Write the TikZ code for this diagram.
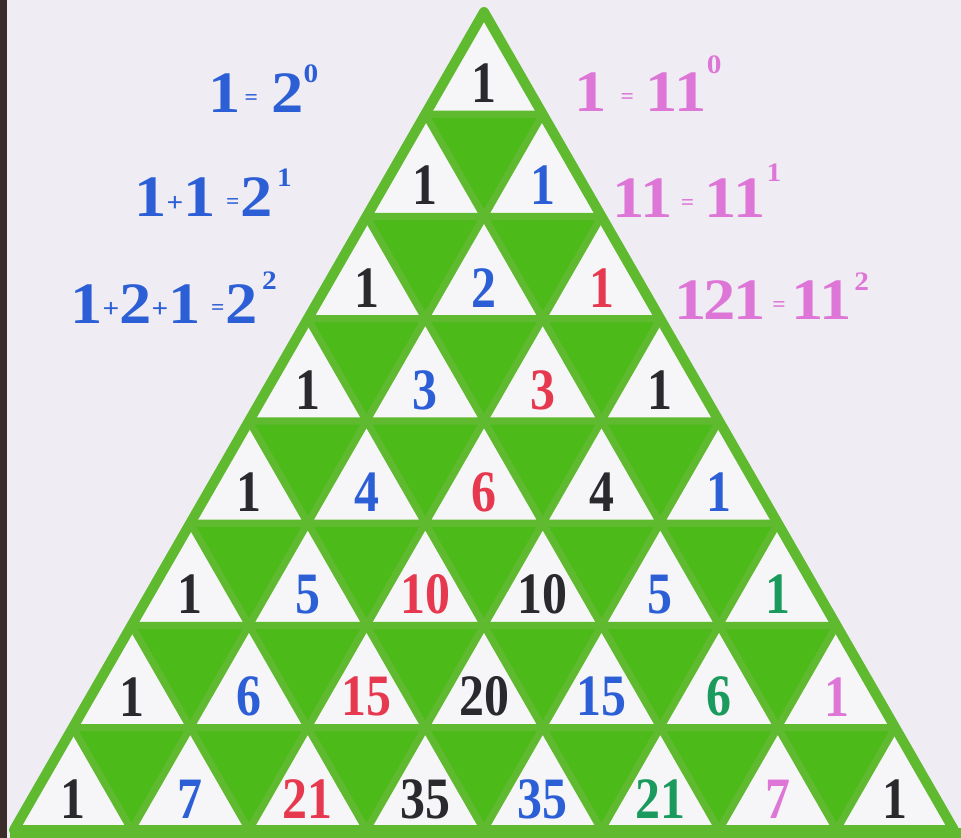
\documentclass[tikz,border=0pt]{standalone}
\usepackage{fontspec}
\newfontfamily\hand[FakeStretch=0.85]{Liberation Serif}
\newfontfamily\labfont[FakeStretch=1.1]{Liberation Serif}
\definecolor{paper}{HTML}{EFEDF3}
\definecolor{edgedark}{HTML}{3A2C2A}
\definecolor{cellwhite}{HTML}{F6F5F7}
\definecolor{gfill}{HTML}{4CBB1A}
\definecolor{gline}{HTML}{5FBA30}
\definecolor{tblack}{HTML}{2A2A2E}
\definecolor{tblue}{HTML}{2C5FD6}
\definecolor{tred}{HTML}{E6384F}
\definecolor{tgreen}{HTML}{1A9A5C}
\definecolor{tpink}{HTML}{DE76D8}
\newcommand\sups[2]{\raisebox{#1}{\fontsize{20}{20}\selectfont #2}}
\newcommand\eq{\raisebox{6pt}{\fontsize{16}{16}\selectfont =}}
\newcommand\pl{\raisebox{4pt}{\fontsize{20}{20}\selectfont +}}
\tikzset{
  num/.style={font=\hand\bfseries\fontsize{44}{44}\selectfont, inner sep=0pt, anchor=center},
  lab/.style={font=\labfont\bfseries\fontsize{44}{44}\selectfont, inner sep=0pt, anchor=base west},
  gridline/.style={draw=gline, line width=5.4pt, line join=round},
  outerline/.style={draw=gline, line width=7.5pt, line join=round},
}
\begin{document}
\begin{tikzpicture}[x=0.75pt,y=-0.75pt]
\useasboundingbox (0,0) rectangle (961,838);
\fill[paper] (0,0) rectangle (961,838);
\fill[edgedark] (0,0) rectangle (7,838);
\def\h{102.25}
\def\w{58.75}
% big triangle
\fill[cellwhite] (484,12) -- (14,830) -- (954,830) -- cycle;
% downward (green) triangles
\foreach \r in {1,...,7}{
  \foreach \k in {1,...,\r}{
    \fill[gfill] ({484+(2*(\k-1)-\r)*\w},{12+\r*\h}) -- ({484+(2*\k-\r)*\w},{12+\r*\h}) -- ({484+(2*(\k-1)-\r)*\w+\w},{12+(\r+1)*\h}) -- cycle;
  }
}
% grid lines: outline of every upward triangle
\foreach \r in {0,...,7}{
  \foreach \k in {0,...,\r}{
    \draw[gridline] ({484+(2*\k-\r)*\w},{12+\r*\h}) -- ({484+(2*\k-\r)*\w-\w},{12+(\r+1)*\h}) -- ({484+(2*\k-\r)*\w+\w},{12+(\r+1)*\h}) -- cycle;
  }
}
\draw[outerline] (484,12) -- (14,830) -- (954,830) -- cycle;
\fill[gline] (10,828) rectangle (961,838);
% numbers
\foreach \r/\k/\v/\c in {
  0/0/1/tblack,
  1/0/1/tblack, 1/1/1/tblue,
  2/0/1/tblack, 2/1/2/tblue, 2/2/1/tred,
  3/0/1/tblack, 3/1/3/tblue, 3/2/3/tred, 3/3/1/tblack,
  4/0/1/tblack, 4/1/4/tblue, 4/2/6/tred, 4/3/4/tblack, 4/4/1/tblue,
  5/0/1/tblack, 5/1/5/tblue, 5/2/10/tred, 5/3/10/tblack, 5/4/5/tblue, 5/5/1/tgreen,
  6/0/1/tblack, 6/1/6/tblue, 6/2/15/tred, 6/3/20/tblack, 6/4/15/tblue, 6/5/6/tgreen, 6/6/1/tpink,
  7/0/1/tblack, 7/1/7/tblue, 7/2/21/tred, 7/3/35/tblack, 7/4/35/tblue, 7/5/21/tgreen, 7/6/7/tpink, 7/7/1/tblack}{
  \node[num, text=\c] (n-\r-\k) at ({484+(2*\k-\r)*\w},{12+\r*\h+2*\h/3+3}) {\v};
}
% left labels (powers of 2)
\node[lab, text=tblue] (l0) at (208,113) {1\hspace{3pt}\eq\hspace{10pt}2\sups{23pt}{0}};
\node[lab, text=tblue] (l1) at (134,217) {1\pl1\hspace{8pt}\eq\hspace{1pt}2\hspace{3pt}\sups{22.5pt}{1}};
\node[lab, text=tblue] (l2) at (70,323) {1\pl2\pl1\hspace{8pt}\eq\hspace{1pt}2\hspace{3pt}\sups{25pt}{2}};
% right labels (powers of 11)
\node[lab, text=tpink] (r0) at (574,112) {1\hspace{10.5pt}\eq\hspace{9pt}11\sups{29pt}{0}};
\node[lab, text=tpink] (r1) at (612,218) {1\hspace{-3pt}1\hspace{6pt}\eq\hspace{8pt}1\hspace{-3pt}1\hspace{1pt}\sups{27pt}{1}};
\node[lab, text=tpink] (r2) at (674,320) {1\hspace{-2pt}2\hspace{-2pt}1\hspace{5pt}\eq\hspace{4pt}1\hspace{-3pt}1\hspace{2pt}\sups{22pt}{2}};
\end{tikzpicture}
\end{document}
